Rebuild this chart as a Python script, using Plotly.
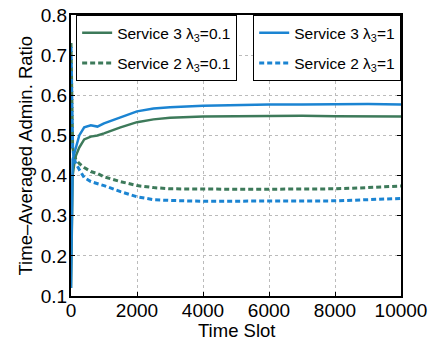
import plotly.graph_objects as go

# Time-averaged admission ratio per service over time slots
time_slot = [0, 20, 50, 100, 150, 250, 400, 600, 800, 1000, 1500, 2000, 2500,
             3000, 4000, 5000, 6000, 7000, 8000, 9000, 10000]
svc3_lam01 = [0.12, 0.30, 0.40, 0.43, 0.45, 0.47, 0.49, 0.497, 0.50, 0.505, 0.52,
              0.533, 0.54, 0.544, 0.547, 0.548, 0.549, 0.549, 0.548, 0.548, 0.547]
svc2_lam01 = [0.73, 0.55, 0.47, 0.45, 0.44, 0.43, 0.42, 0.41, 0.405, 0.397, 0.385,
              0.375, 0.37, 0.367, 0.366, 0.366, 0.366, 0.367, 0.367, 0.37, 0.374]
svc3_lam1 = [0.12, 0.35, 0.44, 0.455, 0.47, 0.50, 0.52, 0.525, 0.522, 0.53, 0.545,
             0.56, 0.567, 0.57, 0.574, 0.576, 0.577, 0.577, 0.578, 0.578, 0.577]
svc2_lam1 = [0.72, 0.55, 0.47, 0.44, 0.43, 0.415, 0.395, 0.385, 0.38, 0.375, 0.36,
             0.347, 0.34, 0.338, 0.336, 0.336, 0.336, 0.336, 0.337, 0.34, 0.343]

x_ticks = [0, 2000, 4000, 6000, 8000, 10000]
y_ticks = [0.1, 0.2, 0.3, 0.4, 0.5, 0.6, 0.7, 0.8]

GREEN = "#3d7a5a"
BLUE = "#1b84d2"
FONT = "Liberation Sans, Arial, Helvetica, sans-serif"
DASH = "5px,3px"

fig = go.Figure()
fig.add_trace(go.Scatter(x=time_slot, y=svc3_lam01, mode="lines", name="Service 3 λ<sub>3</sub>=0.1",
                         line=dict(color=GREEN, width=2.5), legend="legend", legendgroup="a"))
fig.add_trace(go.Scatter(x=time_slot, y=svc2_lam01, mode="lines", name="Service 2 λ<sub>3</sub>=0.1",
                         line=dict(color=GREEN, width=3, dash=DASH), legend="legend", legendgroup="b"))
fig.add_trace(go.Scatter(x=time_slot, y=svc3_lam1, mode="lines", name="Service 3 λ<sub>3</sub>=1",
                         line=dict(color=BLUE, width=2.5), legend="legend2", legendgroup="c"))
fig.add_trace(go.Scatter(x=time_slot, y=svc2_lam1, mode="lines", name="Service 2 λ<sub>3</sub>=1",
                         line=dict(color=BLUE, width=3, dash=DASH), legend="legend2", legendgroup="d"))

legend_style = dict(
    bgcolor="white", bordercolor="black", borderwidth=1.2,
    font=dict(family=FONT, size=15.5, color="black"),
    xref="paper", yref="paper", yanchor="top", y=1.0,
    tracegroupgap=7, itemwidth=30,
)

axis_common = dict(
    showline=True, linecolor="black", linewidth=2, mirror="ticks",
    ticks="inside", ticklen=4, tickcolor="black",
    showgrid=True, gridcolor="#bbbbbb", griddash="dot", gridwidth=1,
    zeroline=False, automargin=False,
    tickfont=dict(size=19, family=FONT),
)

fig.update_layout(
    width=433, height=341,
    margin=dict(l=71, r=32, t=15, b=45),
    paper_bgcolor="white", plot_bgcolor="white",
    font=dict(family=FONT, color="black"),
    showlegend=True,
    legend=dict(x=0.015, xanchor="left", **legend_style),
    legend2=dict(x=1.0, xanchor="right", **legend_style),
    xaxis=dict(range=[0, 10000], tickvals=x_ticks, ticktext=[str(v) for v in x_ticks],
               ticklabelstandoff=-4, **axis_common),
    yaxis=dict(range=[0.1, 0.8], tickvals=y_ticks, ticktext=[f"{v:.1f}" for v in y_ticks],
               ticklabelstandoff=-2, **axis_common),
    annotations=[
        dict(text="Time Slot", xref="paper", yref="paper", x=0.5, y=0,
             xanchor="center", yanchor="middle", yshift=-34, showarrow=False,
             font=dict(size=18.5, family=FONT, color="black")),
        dict(text="Time–Averaged Admin. Ratio", xref="paper", yref="paper", x=0, y=0.5,
             xanchor="center", yanchor="middle", xshift=-46, textangle=-90, showarrow=False,
             font=dict(size=18.5, family=FONT, color="black")),
    ],
)

fig.write_html("out.html")
